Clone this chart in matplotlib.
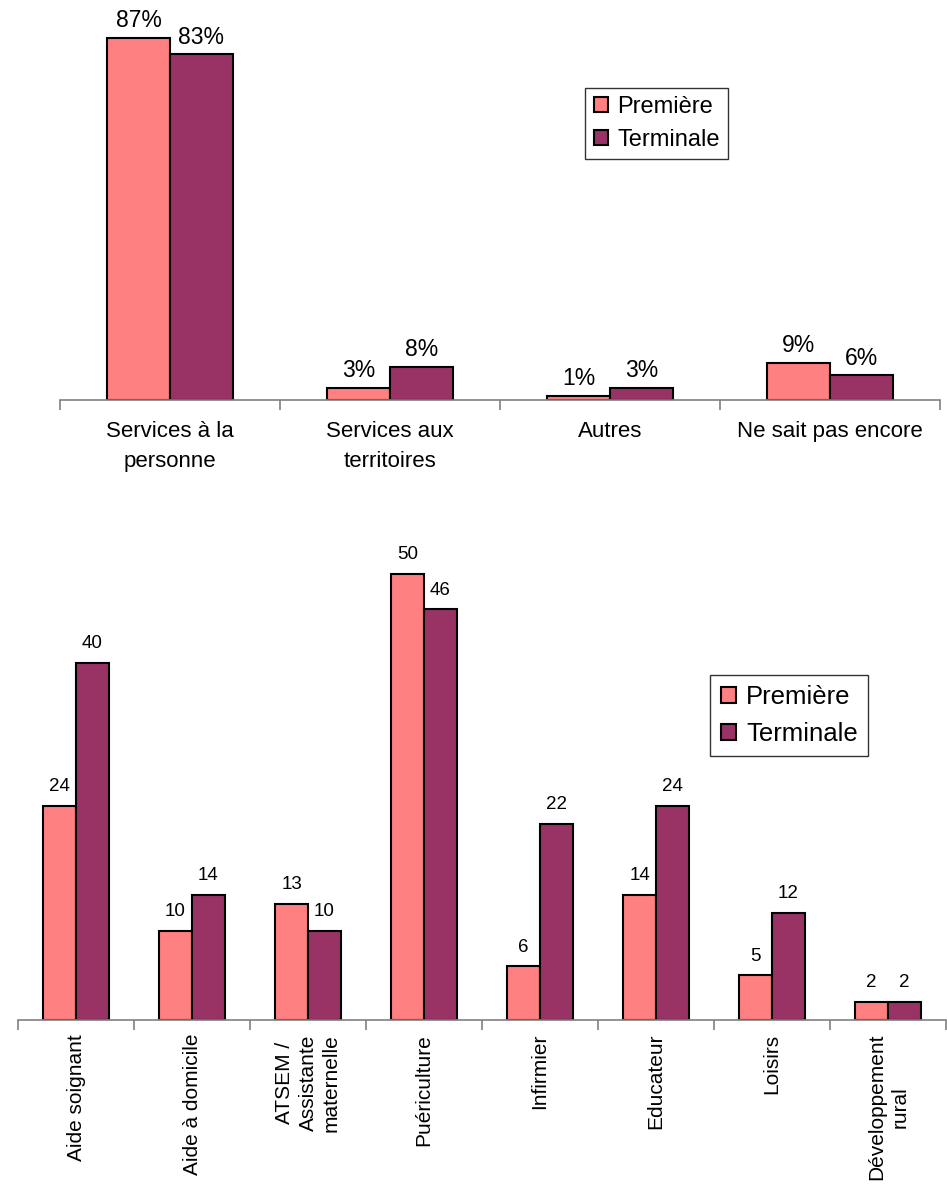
import matplotlib
matplotlib.use("Agg")
import matplotlib.pyplot as plt
import numpy as np

plt.rcParams['font.family'] = ['Liberation Sans', 'DejaVu Sans']

series = ["Première", "Terminale"]
colors = ["#FF8080", "#993366"]

top_categories = ["Services à la\npersonne", "Services aux\nterritoires", "Autres", "Ne sait pas encore"]
top_premiere = [87, 3, 1, 9]
top_terminale = [83, 8, 3, 6]

bot_categories = ["Aide soignant", "Aide à domicile", "ATSEM /\nAssistante\nmaternelle", "Puériculture",
                  "Infirmier", "Educateur", "Loisirs", "Développement\nrural"]
bot_premiere = [24, 10, 13, 50, 6, 14, 5, 2]
bot_terminale = [40, 14, 10, 46, 22, 24, 12, 2]

W, H = 947, 1187
fig = plt.figure(figsize=(W / 100, H / 100), dpi=100)


def setup(ax, n, labels, fs, rotation, pad, ls):
    x = np.arange(n)
    ax.set_xlim(-0.5, n - 0.5)
    for s in ['top', 'right', 'left']:
        ax.spines[s].set_visible(False)
    ax.spines['bottom'].set_color('#808080')
    ax.spines['bottom'].set_linewidth(1.2)
    ax.set_yticks([])
    ax.set_xticks(x)
    ax.set_xticklabels(labels, fontsize=fs, rotation=rotation, ha='center', va='top',
                       linespacing=ls)
    ax.tick_params(axis='x', which='major', length=0, pad=pad)
    ax.set_xticks(np.arange(n + 1) - 0.5, minor=True)
    ax.tick_params(axis='x', which='minor', length=7, color='#808080', width=1.2, direction='out')
    return x


# Top chart
ax1 = fig.add_axes([60 / W, 1 - 400 / H, 880 / W, 375 / H])
x = setup(ax1, 4, top_categories, 16, 0, 15, 1.55)
bw = 0.286
b1 = ax1.bar(x - bw / 2, top_premiere, bw, color=colors[0], edgecolor='black', linewidth=1.5, label=series[0])
b2 = ax1.bar(x + bw / 2, top_terminale, bw, color=colors[1], edgecolor='black', linewidth=1.5, label=series[1])
ax1.set_ylim(0, 90)
for bars, vals in ((b1, top_premiere), (b2, top_terminale)):
    for b, v in zip(bars, vals):
        ax1.text(b.get_x() + b.get_width() / 2, v + 1.3, f"{v}%", ha='center', va='bottom', fontsize=16.5)
leg1 = ax1.legend(loc='upper left', bbox_to_anchor=(0.597, 0.832), fontsize=17, frameon=True,
                  fancybox=False, edgecolor='black', borderaxespad=0, handlelength=0.6, handleheight=0.6,
                  handletextpad=0.4, borderpad=0.35, labelspacing=0.45)
leg1.get_frame().set_linewidth(1.0)

# Bottom chart
ax2 = fig.add_axes([18 / W, 1 - 1020 / H, 928 / W, 482 / H])
x2 = setup(ax2, 8, bot_categories, 15, 90, 10, 1.3)
bw2 = 0.284
c1 = ax2.bar(x2 - bw2 / 2, bot_premiere, bw2, color=colors[0], edgecolor='black', linewidth=1.5, label=series[0])
c2 = ax2.bar(x2 + bw2 / 2, bot_terminale, bw2, color=colors[1], edgecolor='black', linewidth=1.5, label=series[1])
ax2.set_ylim(0, 54)
for bars, vals in ((c1, bot_premiere), (c2, bot_terminale)):
    for b, v in zip(bars, vals):
        ax2.text(b.get_x() + b.get_width() / 2, v + 1.2, f"{v}", ha='center', va='bottom', fontsize=13.5)
leg2 = ax2.legend(loc='upper left', bbox_to_anchor=(0.746, 0.716), fontsize=18.5, frameon=True,
                  fancybox=False, edgecolor='black', borderaxespad=0, handlelength=0.6, handleheight=0.6,
                  handletextpad=0.4, borderpad=0.4, labelspacing=0.5)
leg2.get_frame().set_linewidth(1.0)

fig.savefig("out.png", dpi=100)
